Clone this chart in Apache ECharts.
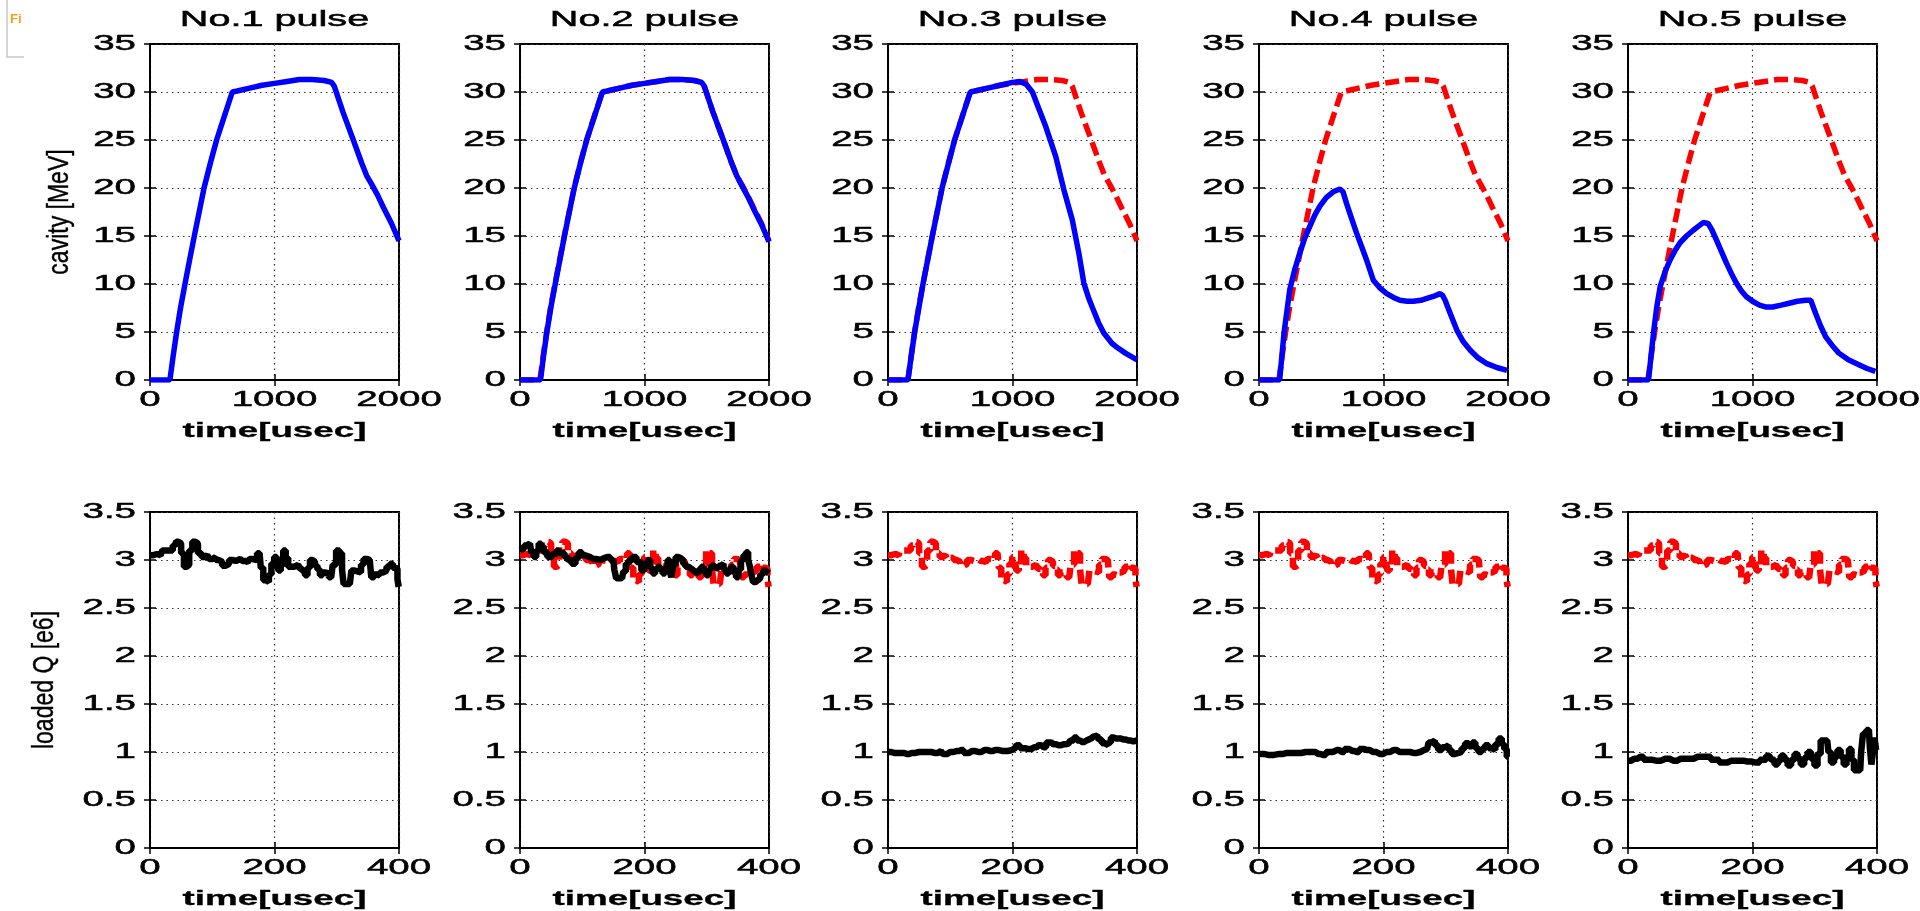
<!DOCTYPE html>
<html>
<head>
<meta charset="utf-8">
<script src="https://cdn.jsdelivr.net/npm/echarts@6/dist/echarts.min.js"></script>
<style>
html,body{margin:0;padding:0;background:#fff;}
#chart{width:1920px;height:911px;}
</style>
</head>
<body>
<div id="chart"></div>
<script>
// ---------------- data ----------------
const pulseTitles = ['No.1 pulse', 'No.2 pulse', 'No.3 pulse', 'No.4 pulse', 'No.5 pulse'];
const topXTicks = [0, 1000, 2000];
const topYTicks = [0, 5, 10, 15, 20, 25, 30, 35];
const bottomXTicks = [0, 200, 400];
const bottomYTicks = [0, 0.5, 1, 1.5, 2, 2.5, 3, 3.5];
const xLabel = 'time[usec]';
const yLabelTop = 'cavity [MeV]';
const yLabelBottom = 'loaded Q [e6]';

// reference cavity voltage (pulse 1, red dashed in later pulses)
const refCavity = [[0,0],[160,0],[185,2.4],[214,5],[245,7.5],[281,10],[318,12.5],[356,15],[395,17.5],[434,20],[485,22.6],[535,25],[600,27.6],[661,30],[700,30.1],[800,30.4],[900,30.7],[1000,30.9],[1100,31.1],[1200,31.3],[1300,31.3],[1400,31.2],[1460,31.0],[1480,30.6],[1550,27.9],[1633,25.0],[1700,22.6],[1740,21.3],[1780,20.4],[1830,19.2],[1874,18.0],[1940,16.3],[2000,14.5]];
const cavity2 = [[0,0],[165,0],[188,2.4],[216,5],[247,7.5],[283,10],[320,12.5],[357,15],[396,17.5],[436,20],[486,22.6],[536,25],[601,27.6],[662,30],[700,30.1],[800,30.4],[900,30.7],[1000,30.9],[1100,31.1],[1200,31.3],[1300,31.3],[1400,31.2],[1460,31.0],[1480,30.6],[1550,27.9],[1633,25.0],[1700,22.6],[1740,21.3],[1780,20.3],[1830,19.1],[1874,17.9],[1940,16.2],[2000,14.4]];
const cavity3 = [[0,0],[160,0],[214,5],[281,10],[356,15],[434,20],[535,25],[661,30],[800,30.4],[900,30.7],[1000,31.0],[1060,31.1],[1110,30.8],[1160,30.0],[1210,28.3],[1267,26.4],[1347,23.3],[1413,19.8],[1480,16.7],[1533,13.2],[1573,10.1],[1610,8.6],[1640,7.6],[1690,6.0],[1733,4.9],[1800,3.8],[1850,3.3],[1907,2.8],[2000,2.1]];
const cavity4 = [[0,0],[166,0],[201,4.9],[247,9.4],[287,11.5],[327,13.2],[368,14.8],[408,16.0],[449,17.2],[489,18.1],[540,19.0],[596,19.6],[650,19.9],[675,19.6],[703,18.4],[744,16.8],[784,15.3],[824,13.9],[864,12.5],[918,10.4],[970,9.6],[1026,9.0],[1080,8.6],[1133,8.3],[1190,8.2],[1240,8.2],[1300,8.3],[1348,8.5],[1400,8.7],[1455,9.0],[1475,8.8],[1495,8.3],[1540,6.8],[1589,5.2],[1640,4.0],[1697,3.1],[1760,2.3],[1831,1.7],[1910,1.3],[1992,1.0]];
const cavity5 = [[0,0],[165,0],[185,2.5],[205,4.9],[230,7.5],[258,9.7],[298,11.3],[338,12.5],[378,13.5],[418,14.3],[470,15.0],[524,15.6],[564,16.0],[604,16.4],[644,16.3],[675,15.6],[710,14.6],[750,13.4],[790,12.2],[830,11.1],[870,10.1],[910,9.3],[949,8.7],[1000,8.2],[1056,7.8],[1110,7.6],[1162,7.6],[1230,7.8],[1295,8.0],[1360,8.2],[1428,8.3],[1468,8.3],[1508,6.9],[1548,5.6],[1588,4.5],[1640,3.6],[1694,2.8],[1770,2.1],[1854,1.6],[1920,1.2],[1987,0.9]];

// reference loaded Q (pulse 1, red dashed in later pulses)
const refQ = [[0,3.05],[10,3.06],[17,3.05],[22,3.1],[33,3.1],[40,3.15],[44,3.19],[48,3.17],[52,3.07],[57,2.93],[61,2.95],[65,3.1],[71,3.19],[75,3.17],[79,3.07],[87,3.03],[92,3.05],[98,3.01],[103,3.03],[108,3.0],[113,2.98],[119,2.94],[124,2.96],[130,3.0],[135,2.99],[141,3.01],[149,2.99],[157,2.98],[163,3.01],[168,3.0],[176,3.07],[180,2.92],[184,2.79],[189,2.77],[193,2.85],[197,2.96],[202,3.03],[205,2.98],[208,2.89],[212,2.95],[216,3.1],[220,3.02],[224,2.93],[232,2.93],[238,2.95],[243,2.91],[247,2.88],[251,2.84],[255,2.92],[259,3.0],[263,2.98],[267,2.94],[271,2.9],[275,2.84],[279,2.87],[283,2.86],[291,2.82],[296,2.95],[302,3.1],[307,3.07],[310,2.9],[312,2.75],[321,2.75],[326,2.89],[332,2.88],[337,2.87],[341,2.95],[345,3.01],[353,3.0],[358,2.82],[362,2.85],[366,2.84],[372,2.87],[377,2.89],[383,2.93],[388,2.96],[392,2.92],[396,2.91],[399,2.8],[400,2.72]];
const q2 = [[0,3.1],[3,3.12],[10,3.15],[16,3.17],[20,3.08],[24,3.03],[28,3.1],[32,3.17],[36,3.14],[40,3.08],[48,3.03],[55,3.06],[62,3.1],[68,3.07],[75,3.03],[80,3.0],[86,2.96],[92,3.02],[97,3.08],[102,3.05],[107,3.03],[118,3.01],[129,3.0],[135,3.02],[140,3.03],[150,3.0],[153,2.9],[156,2.81],[164,2.81],[168,2.88],[172,2.96],[178,3.0],[183,3.03],[191,2.98],[199,2.89],[203,2.95],[207,3.0],[211,2.92],[215,2.86],[219,2.9],[223,2.93],[227,2.9],[231,2.86],[235,2.92],[239,3.0],[242,2.9],[244,2.82],[248,2.95],[252,3.03],[256,3.02],[260,3.0],[264,2.96],[268,2.93],[273,2.91],[277,2.89],[281,2.87],[285,2.86],[289,2.9],[293,2.93],[297,2.88],[301,2.84],[305,2.9],[309,2.94],[313,2.92],[317,2.91],[321,2.94],[325,2.96],[329,2.9],[333,2.86],[337,2.9],[341,2.93],[345,2.87],[349,2.82],[353,2.9],[357,3.0],[361,3.05],[365,3.08],[368,3.0],[370,2.94],[373,2.85],[376,2.77],[380,2.79],[384,2.81],[388,2.85],[392,2.89],[396,2.87],[400,2.86]];
const q3 = [[0,1.0],[10,0.99],[20,0.99],[30,0.98],[38,0.99],[50,1.0],[64,1.0],[75,0.99],[85,1.01],[91,0.98],[100,1.0],[110,1.01],[118,1.02],[125,0.99],[135,1.01],[145,1.0],[155,1.02],[165,1.01],[172,1.02],[185,1.01],[199,1.02],[204,1.04],[209,1.07],[215,1.04],[225,1.03],[235,1.05],[242,1.07],[250,1.05],[258,1.1],[266,1.08],[274,1.07],[282,1.08],[290,1.09],[296,1.12],[301,1.15],[306,1.12],[311,1.1],[316,1.12],[322,1.14],[330,1.16],[336,1.17],[341,1.13],[346,1.09],[352,1.07],[356,1.1],[360,1.15],[365,1.14],[370,1.14],[378,1.13],[386,1.12],[394,1.11],[400,1.12]];
const q4 = [[0,0.98],[15,0.97],[33,0.98],[45,0.99],[60,0.99],[75,1.0],[87,1.0],[95,0.98],[103,0.97],[112,1.0],[125,1.02],[133,1.0],[141,1.03],[150,1.01],[157,1.0],[165,1.03],[173,1.02],[183,1.0],[194,0.98],[205,1.0],[216,1.02],[226,1.0],[237,1.0],[248,0.99],[259,1.0],[265,1.02],[270,1.03],[275,1.1],[280,1.12],[285,1.07],[291,1.02],[297,1.05],[302,1.07],[307,1.02],[312,0.98],[318,0.99],[323,1.0],[328,1.04],[334,1.09],[340,1.06],[345,1.1],[350,1.04],[355,1.0],[360,1.03],[366,1.07],[372,1.04],[377,1.02],[382,1.08],[388,1.14],[392,1.08],[396,1.03],[400,0.95]];
const q5 = [[0,0.91],[10,0.93],[20,0.95],[30,0.92],[45,0.91],[60,0.93],[73,0.91],[85,0.93],[99,0.93],[112,0.95],[126,0.95],[140,0.92],[153,0.89],[166,0.91],[179,0.91],[192,0.9],[206,0.89],[217,0.92],[227,0.96],[233,0.92],[238,0.87],[243,0.91],[248,0.96],[254,0.92],[259,0.86],[265,0.92],[270,0.98],[275,0.93],[280,0.87],[286,0.94],[291,1.0],[297,0.93],[302,0.86],[307,0.98],[312,1.12],[320,1.12],[324,1.0],[328,0.89],[334,0.95],[339,1.02],[344,0.95],[349,0.87],[353,0.95],[357,1.03],[361,0.92],[365,0.81],[373,0.81],[376,1.0],[379,1.19],[387,1.23],[390,1.05],[392,0.87],[395,1.0],[397,1.15],[400,1.02]];

const measuredCavity = [refCavity, cavity2, cavity3, cavity4, cavity5];
const measuredQ = [refQ, q2, q3, q4, q5];
const showReference = [false, true, true, true, true];

// ---------------- layout ----------------
const FONT = "'Liberation Sans', Arial, Helvetica, sans-serif";
const STRETCH = 1.75;            // wide-looking text of the original figure
const panelLeft = [150, 520, 888, 1259, 1628];
const panelWidth = 249;
const rowTop = [44, 512];
const panelHeight = 336;

const grids = [], xAxes = [], yAxes = [], series = [];
const panelAxes = [];

function addPanel(col, row) {
  const g = grids.length;
  const xt = row === 0 ? topXTicks : bottomXTicks;
  const yt = row === 0 ? topYTicks : bottomYTicks;
  grids.push({
    left: panelLeft[col], top: rowTop[row], width: panelWidth, height: panelHeight,
    show: true, backgroundColor: '#fff', borderColor: '#000', borderWidth: 2, containLabel: false
  });
  const tick = { show: true, inside: true, length: 6, lineStyle: { color: '#000', width: 1.5 } };
  const gridLine = { show: true, lineStyle: { color: '#333', width: 1.2, type: [1.5, 4] } };
  const xCommon = { type: 'value', gridIndex: g, min: xt[0], max: xt[xt.length - 1], interval: xt[1] - xt[0] };
  const yCommon = { type: 'value', gridIndex: g, min: yt[0], max: yt[yt.length - 1], interval: yt[1] - yt[0] };
  xAxes.push(Object.assign({}, xCommon, {
    position: 'bottom',
    axisLine: { show: true, onZero: false, lineStyle: { color: '#000', width: 2 } },
    axisTick: tick, axisLabel: { show: false }, splitLine: gridLine
  }));
  const xi = xAxes.length - 1;
  xAxes.push(Object.assign({}, xCommon, {
    position: 'top', axisLine: { show: false }, axisTick: tick, axisLabel: { show: false }, splitLine: { show: false }
  }));
  yAxes.push(Object.assign({}, yCommon, {
    position: 'left',
    axisLine: { show: true, onZero: false, lineStyle: { color: '#000', width: 2 } },
    axisTick: tick, axisLabel: { show: false }, splitLine: gridLine
  }));
  const yi = yAxes.length - 1;
  yAxes.push(Object.assign({}, yCommon, {
    position: 'right', axisLine: { show: false }, axisTick: tick, axisLabel: { show: false }, splitLine: { show: false }
  }));
  panelAxes.push({ col, row, xi, yi, xt, yt });
  return { xi, yi };
}

for (let c = 0; c < 5; c++) {
  const a = addPanel(c, 0);
  if (showReference[c]) {
    series.push({
      type: 'line', xAxisIndex: a.xi, yAxisIndex: a.yi, data: refCavity, showSymbol: false,
      lineStyle: { color: '#ff0000', width: 5.5, type: [14, 6] }, z: 2
    });
  }
  series.push({
    type: 'line', xAxisIndex: a.xi, yAxisIndex: a.yi, data: measuredCavity[c], showSymbol: false,
    lineStyle: { color: '#0000ff', width: 5.5 }, z: 3
  });
  const b = addPanel(c, 1);
  if (showReference[c]) {
    series.push({
      type: 'line', xAxisIndex: b.xi, yAxisIndex: b.yi, data: refQ, showSymbol: false, step: 'middle',
      lineStyle: { color: '#ff0000', width: 6.5, type: [14, 6] }, z: 2
    });
  }
  series.push({
    type: 'line', xAxisIndex: b.xi, yAxisIndex: b.yi, data: measuredQ[c], showSymbol: false, step: 'middle',
    lineStyle: { color: '#000000', width: 6.5 }, z: 3
  });
}

const chart = echarts.init(document.getElementById('chart'), null, { renderer: 'canvas' });
chart.setOption({
  backgroundColor: '#fff',
  animation: false,
  grid: grids,
  xAxis: xAxes,
  yAxis: yAxes,
  series: series
});

// ---------------- text (stretched like the original) ----------------
function txt(x, y, text, opts) {
  opts = opts || {};
  return {
    type: 'text', x: x, y: y, z: 100,
    scaleX: opts.scaleX == null ? STRETCH : opts.scaleX,
    scaleY: opts.scaleY == null ? 1 : opts.scaleY,
    rotation: opts.rotation || 0,
    style: {
      text: text, fill: '#000', stroke: '#000', lineWidth: opts.lineWidth == null ? 0.5 : opts.lineWidth,
      fontSize: opts.fontSize || 22, fontFamily: FONT, fontWeight: opts.fontWeight || 'normal',
      align: opts.align || 'center', verticalAlign: 'middle',
      textAlign: opts.align || 'center', textVerticalAlign: 'middle'
    }
  };
}
const gfx = [
  { type: 'polyline', shape: { points: [[7, 0], [7, 57], [24, 57]] }, style: { stroke: '#c8c8c8', lineWidth: 1.5, fill: null } },
  { type: 'text', x: 10, y: 13, style: { text: 'Fi', fill: '#f5a01a', fontSize: 13, fontWeight: 'bold', fontFamily: FONT } }
];
panelAxes.forEach(function (p) {
  const finder = { xAxisIndex: p.xi, yAxisIndex: p.yi };
  const y0 = p.yt[0], x0 = p.xt[0];
  const xMid = (p.xt[0] + p.xt[p.xt.length - 1]) / 2;
  const bottomPx = chart.convertToPixel(finder, [x0, y0])[1];
  const topPx = chart.convertToPixel(finder, [x0, p.yt[p.yt.length - 1]])[1];
  const leftPx = chart.convertToPixel(finder, [x0, y0])[0];
  const midPx = chart.convertToPixel(finder, [xMid, y0])[0];
  p.xt.forEach(function (v) {
    const px = chart.convertToPixel(finder, [v, y0]);
    gfx.push(txt(px[0], px[1] + 20, String(v)));
  });
  p.yt.forEach(function (v) {
    const px = chart.convertToPixel(finder, [x0, v]);
    gfx.push(txt(px[0] - 14, px[1], String(v), { align: 'right' }));
  });
  gfx.push(txt(midPx, bottomPx + 51, xLabel, { fontWeight: 'bold', fontSize: 21, lineWidth: 0.3 }));
  if (p.row === 0) {
    gfx.push(txt(midPx, topPx - 24, pulseTitles[p.col], { fontSize: 22, scaleX: 1.8 }));
  }
  if (p.col === 0) {
    const cy = (bottomPx + topPx) / 2;
    const label = p.row === 0 ? yLabelTop : yLabelBottom;
    const cx = p.row === 0 ? leftPx - 90 : leftPx - 105;
    gfx.push(txt(cx, cy, label, { rotation: Math.PI / 2, scaleX: 1, scaleY: 1.3, fontSize: 23, lineWidth: 0.3 }));
  }
});
chart.setOption({ graphic: gfx });
</script>
</body>
</html>
